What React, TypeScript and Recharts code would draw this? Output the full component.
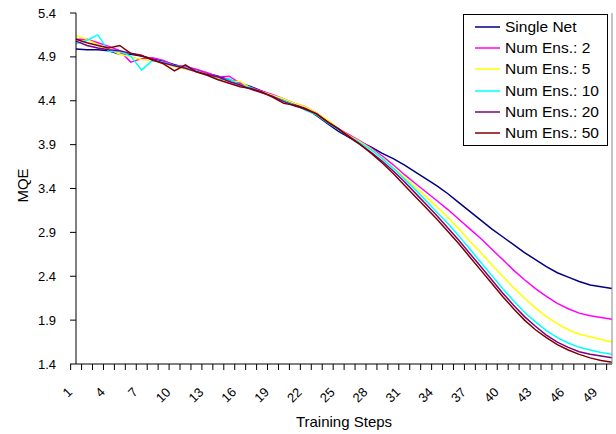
import React from 'react';
import { LineChart, Line, XAxis, YAxis, Legend, Label } from 'recharts';

const steps = [
  1, 2, 3, 4, 5, 6, 7, 8, 9, 10, 11, 12, 13, 14, 15, 16, 17, 18, 19, 20, 21, 22, 23, 24, 25,
  26, 27, 28, 29, 30, 31, 32, 33, 34, 35, 36, 37, 38, 39, 40, 41, 42, 43, 44, 45, 46, 47, 48, 49, 50,
];

const singleNet = [
  4.99, 4.98, 4.98, 4.97, 4.93, 4.93, 4.91, 4.88, 4.85, 4.81, 4.78, 4.75, 4.71, 4.68, 4.64, 4.6, 4.56, 4.51, 4.46, 4.41, 4.36, 4.31, 4.23, 4.14, 4.05,
  3.98, 3.93, 3.87, 3.8, 3.74, 3.67, 3.59, 3.51, 3.43, 3.34, 3.24, 3.14, 3.04, 2.94, 2.85, 2.76, 2.67, 2.59, 2.51, 2.44, 2.39, 2.34, 2.3, 2.28, 2.26,
];
const ens2 = [
  5.1, 5.1, 5.06, 5.02, 4.97, 4.84, 4.88, 4.89, 4.86, 4.8, 4.79, 4.76, 4.72, 4.67, 4.68, 4.6, 4.55, 4.51, 4.47, 4.42, 4.37, 4.33, 4.26, 4.17, 4.08,
  4.01, 3.94, 3.86, 3.77, 3.67, 3.56, 3.46, 3.36, 3.26, 3.16, 3.05, 2.94, 2.83, 2.71, 2.59, 2.47, 2.36, 2.26, 2.17, 2.09, 2.03, 1.98, 1.95, 1.93, 1.91,
];
const ens5 = [
  5.14, 5.1, 5.04, 4.99, 4.93, 4.9, 4.87, 4.86, 4.82, 4.79, 4.76, 4.74, 4.7, 4.66, 4.62, 4.62, 4.54, 4.5, 4.46, 4.42, 4.37, 4.33, 4.26, 4.18, 4.08,
  4.0, 3.93, 3.85, 3.75, 3.64, 3.53, 3.42, 3.31, 3.19, 3.07, 2.94, 2.8, 2.67, 2.53, 2.4, 2.27, 2.15, 2.04, 1.94, 1.86, 1.79, 1.74, 1.71, 1.68, 1.65,
];
const ens10 = [
  5.05, 5.09, 5.15, 4.96, 4.96, 4.91, 4.75, 4.86, 4.84, 4.8, 4.78, 4.74, 4.69, 4.64, 4.65, 4.58, 4.55, 4.49, 4.45, 4.4, 4.35, 4.29, 4.24, 4.15, 4.07,
  3.99, 3.92, 3.84, 3.74, 3.63, 3.51, 3.39, 3.26, 3.13, 3.0, 2.86, 2.71, 2.56, 2.41, 2.26, 2.12, 1.99, 1.88, 1.78, 1.7, 1.64, 1.59, 1.56, 1.53, 1.51,
];
const ens20 = [
  5.08, 5.03, 5.0, 4.98, 4.97, 4.94, 4.92, 4.86, 4.83, 4.8, 4.77, 4.73, 4.7, 4.67, 4.62, 4.58, 4.53, 4.49, 4.45, 4.39, 4.34, 4.31, 4.25, 4.16, 4.08,
  3.98, 3.9, 3.81, 3.71, 3.6, 3.48, 3.35, 3.22, 3.09, 2.95, 2.81, 2.66, 2.51, 2.36, 2.21, 2.07, 1.94, 1.83, 1.73, 1.65, 1.59, 1.54, 1.51, 1.49, 1.47,
];
const ens50 = [
  5.1, 5.06, 5.03, 5.0, 5.03, 4.94, 4.91, 4.87, 4.82, 4.74, 4.81, 4.73, 4.69, 4.64, 4.6, 4.56, 4.54, 4.5, 4.44, 4.37, 4.35, 4.3, 4.25, 4.16, 4.08,
  3.99, 3.9, 3.8, 3.69, 3.57, 3.44, 3.31, 3.18, 3.05, 2.91, 2.77, 2.62, 2.47, 2.32, 2.17, 2.03, 1.9, 1.79, 1.7, 1.62, 1.56, 1.51, 1.47, 1.44, 1.42,
];

const yTicks = [1.4, 1.9, 2.4, 2.9, 3.4, 3.9, 4.4, 4.9, 5.4];

const seriesKeys = ['single', 'e2', 'e5', 'e10', 'e20', 'e50'];
const seriesNames = ['Single Net', 'Num Ens.: 2', 'Num Ens.: 5', 'Num Ens.: 10', 'Num Ens.: 20', 'Num Ens.: 50'];
const seriesColors = ['#000080', '#FF00FF', '#FFFF00', '#00FFFF', '#800080', '#800000'];
const seriesValues = [singleNet, ens2, ens5, ens10, ens20, ens50];

const data = steps.map((s, i) => {
  const row: Record<string, number> = { step: s };
  seriesKeys.forEach((k, j) => {
    row[k] = seriesValues[j][i];
  });
  return row;
});

const FONT = "'Liberation Sans', Arial, Helvetica, sans-serif";
const W = 616;
const H = 434;
const LEFT_W = 76;
const RIGHT_W = 4;
const BAND = (W - LEFT_W - RIGHT_W) / steps.length;

function XTick(props: any) {
  const { x, y, payload } = props;
  const step = payload.value as number;
  const showLabel = (step - 1) % 3 === 0;
  const lx = x - 3;
  const ly = y + 29;
  return (
    <g>
      <line x1={x - BAND / 2} x2={x - BAND / 2} y1={y} y2={y + 6} stroke="#000" strokeWidth={1} />
      {step === steps[steps.length - 1] && (
        <line x1={x + BAND / 2} x2={x + BAND / 2} y1={y} y2={y + 6} stroke="#000" strokeWidth={1} />
      )}
      {showLabel && (
        <text
          x={lx}
          y={ly}
          transform={`rotate(-45 ${lx} ${ly})`}
          textAnchor="end"
          fontSize={13}
          fontFamily={FONT}
          fill="#000"
        >
          {step}
        </text>
      )}
    </g>
  );
}

function XTitle(props: any) {
  const vb = props.viewBox;
  return (
    <text x={vb.x + vb.width / 2} y={vb.y + vb.height - 7} textAnchor="middle" fontSize={15} fontFamily={FONT} fill="#000">
      Training Steps
    </text>
  );
}

function YTitle(props: any) {
  const vb = props.viewBox;
  const x = 28;
  const y = vb.y + vb.height / 2 - 3;
  return (
    <text x={x} y={y} transform={`rotate(-90 ${x} ${y})`} textAnchor="middle" fontSize={15} fontFamily={FONT} fill="#000">
      MQE
    </text>
  );
}

function LegendBox(props: any) {
  const payload = (props.payload || []).slice().sort(
    (a: any, b: any) => seriesKeys.indexOf(a.dataKey) - seriesKeys.indexOf(b.dataKey)
  );
  return (
    <div
      style={{
        boxSizing: 'border-box',
        width: 145,
        height: 132,
        border: '1px solid #000',
        background: '#fff',
        paddingTop: 1,
        fontFamily: FONT,
        fontSize: 15.5,
        color: '#000',
      }}
    >
      {payload.map((p: any) => (
        <div key={p.dataKey} style={{ display: 'flex', alignItems: 'center', height: 21.3 }}>
          <svg width={37} height={4} style={{ display: 'block' }}>
            <line x1={11} x2={36} y1={2} y2={2} stroke={p.color} strokeWidth={1.5} />
          </svg>
          <span style={{ marginLeft: 4, whiteSpace: 'nowrap', lineHeight: '18px' }}>{p.value}</span>
        </div>
      ))}
    </div>
  );
}

export default function App() {
  return (
    <div style={{ position: 'absolute', left: 0, top: 0, width: W, height: H, background: '#fff' }}>
      <LineChart width={W} height={H} data={data} margin={{ top: 13, right: 0, bottom: 0, left: 0 }}>
        <XAxis
          dataKey="step"
          type="category"
          height={70}
          interval={0}
          tickLine={false}
          tickSize={0}
          tickMargin={0}
          tick={<XTick />}
          axisLine={{ stroke: '#000', strokeWidth: 1 }}
        >
          <Label content={<XTitle />} />
        </XAxis>
        <XAxis
          xAxisId="top"
          orientation="top"
          dataKey="step"
          height={0}
          tick={false}
          tickLine={false}
          axisLine={{ stroke: '#888', strokeWidth: 1 }}
        />
        <YAxis
          type="number"
          domain={[1.4, 5.4]}
          ticks={yTicks}
          width={LEFT_W}
          tickSize={6}
          tickMargin={14}
          tickLine={{ stroke: '#000' }}
          axisLine={{ stroke: '#000', strokeWidth: 1 }}
          tick={{ fontSize: 13, fontFamily: FONT, fill: '#000' }}
          tickFormatter={(v: number) => v.toFixed(1)}
          allowDataOverflow
        >
          <Label content={<YTitle />} />
        </YAxis>
        <YAxis
          yAxisId="right"
          orientation="right"
          type="number"
          domain={[1.4, 5.4]}
          width={RIGHT_W}
          tick={false}
          tickLine={false}
          axisLine={{ stroke: '#888', strokeWidth: 1 }}
        />
        <Legend
          layout="vertical"
          align="center"
          verticalAlign="middle"
          content={<LegendBox />}
          wrapperStyle={{ left: 463, top: 14, width: 145, height: 132 }}
        />
        {seriesKeys.map((k, j) => (
          <Line
            key={k}
            type="linear"
            dataKey={k}
            name={seriesNames[j]}
            stroke={seriesColors[j]}
            strokeWidth={1.5}
            dot={false}
            activeDot={false}
            isAnimationActive={false}
          />
        ))}
      </LineChart>
    </div>
  );
}
